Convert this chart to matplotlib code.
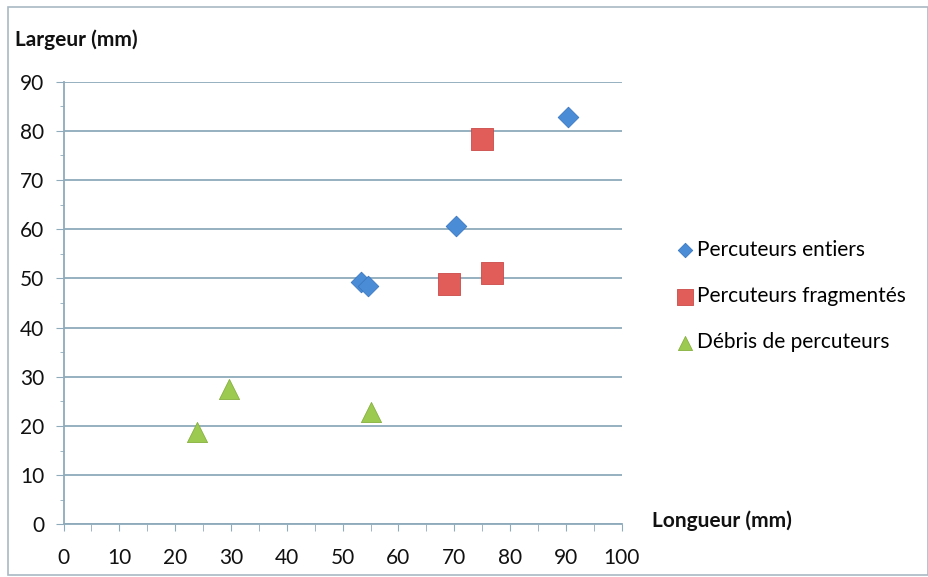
import matplotlib.pyplot as plt
from matplotlib.patches import Rectangle

# data
entiers_x = [53.3, 54.5, 70.3, 90.4]
entiers_y = [49.3, 48.5, 60.7, 82.8]
fragmentes_x = [69.0, 76.7, 74.9]
fragmentes_y = [48.8, 51.1, 78.3]
debris_x = [23.9, 29.7, 55.1]
debris_y = [18.8, 27.6, 22.9]

labels = ['Percuteurs entiers', 'Percuteurs fragmentés', 'Débris de percuteurs']
x_ticks = list(range(0, 101, 10))
y_ticks = list(range(0, 91, 10))

plt.rcParams['font.family'] = ['Lato', 'DejaVu Sans']

grid_col = '#8eaabb'
fs = 15

fig = plt.figure(figsize=(9.29, 5.77), dpi=100)
ax = fig.add_axes([63.5 / 929, 1 - 524.3 / 577, (621.7 - 63.5) / 929, (524.3 - 81.7) / 577])

ax.scatter(entiers_x, entiers_y, marker='D', s=10.5 ** 2, color='#4a8dd6',
           edgecolors='#3a78c0', linewidths=0.6, label=labels[0], zorder=3)
ax.scatter(fragmentes_x, fragmentes_y, marker='s', s=16 ** 2, color='#e05d5a',
           edgecolors='#c94a48', linewidths=0.6, label=labels[1], zorder=3)
ax.scatter(debris_x, debris_y, marker='^', s=14.5 ** 2, color='#9cc94f',
           edgecolors='#86b03e', linewidths=0.6, label=labels[2], zorder=3)

ax.set_xlim(0, 100)
ax.set_ylim(0, 90)
ax.set_xticks(x_ticks)
ax.set_yticks(y_ticks)
ax.set_xticks(range(5, 100, 10), minor=True)
ax.set_yticks(range(5, 90, 10), minor=True)
ax.tick_params(axis='both', which='both', colors=grid_col, labelcolor='#111111',
               labelsize=fs, direction='out')
ax.tick_params(axis='y', which='major', length=6, pad=8)
ax.tick_params(axis='y', which='minor', length=3)
ax.tick_params(axis='x', which='both', length=5, pad=12)

ax.grid(axis='y', color=grid_col, linewidth=1.3)
ax.set_axisbelow(True)
for side in ['top', 'right']:
    ax.spines[side].set_visible(False)
for side in ['left', 'bottom']:
    ax.spines[side].set_color(grid_col)
    ax.spines[side].set_linewidth(1.3)

fig.text(15 / 929, 1 - 40 / 577, 'Largeur (mm)', fontsize=fs, fontweight='bold',
         va='center', ha='left', color='#111111')
fig.text(652 / 929, 1 - 521 / 577, 'Longueur (mm)', fontsize=fs, fontweight='bold',
         va='center', ha='left', color='#111111')

fig.legend(loc='center left', bbox_to_anchor=(668 / 929, 1 - 296 / 577), frameon=False,
           fontsize=fs, markerscale=0.7, handlelength=0.6, handletextpad=0.3,
           labelspacing=1.25, borderpad=0)

fig.patches.append(Rectangle((8 / 929, 2 / 577), 1 - 9 / 929, 1 - 9 / 577,
                             transform=fig.transFigure, fill=False,
                             edgecolor='#a9b9c4', linewidth=1.2))

fig.savefig('out.png', dpi=100)
